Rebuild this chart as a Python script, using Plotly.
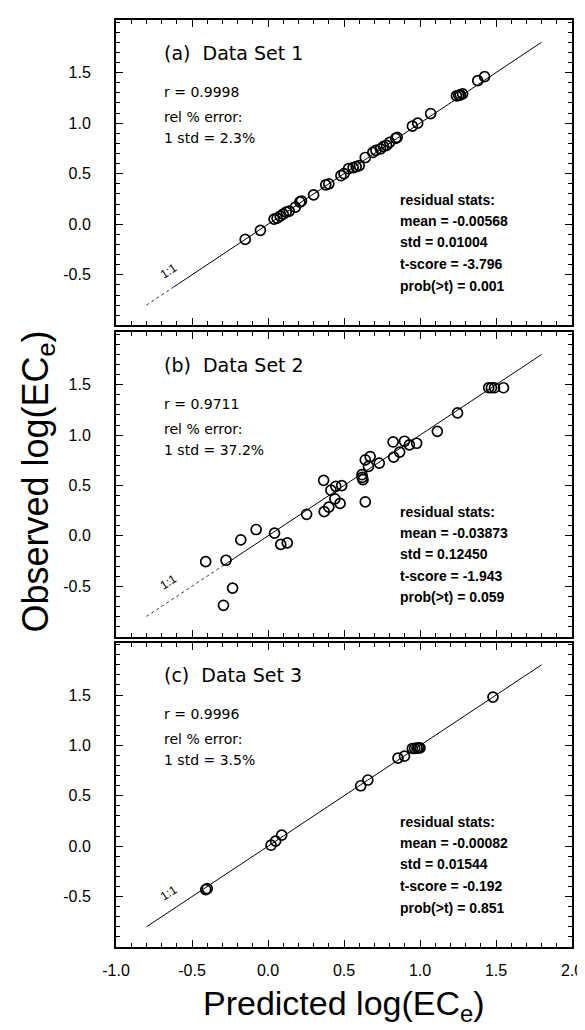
import plotly.graph_objects as go

# ---------------- data ----------------
set1_pred = [-0.15, -0.05, 0.04, 0.06, 0.08, 0.10, 0.12, 0.14, 0.18, 0.21, 0.22, 0.30,
             0.38, 0.40, 0.48, 0.50, 0.53, 0.56, 0.58, 0.60, 0.64, 0.69, 0.71, 0.74,
             0.76, 0.78, 0.80, 0.84, 0.85, 0.95, 0.985, 1.07, 1.24, 1.255, 1.265, 1.28,
             1.38, 1.425]
set1_obs = [-0.15, -0.06, 0.05, 0.06, 0.08, 0.10, 0.12, 0.13, 0.17, 0.22, 0.23, 0.29,
            0.39, 0.40, 0.48, 0.50, 0.55, 0.56, 0.57, 0.58, 0.66, 0.71, 0.73, 0.745,
            0.77, 0.78, 0.81, 0.85, 0.86, 0.97, 1.00, 1.095, 1.27, 1.275, 1.28, 1.29,
            1.42, 1.46]

set2_pred = [-0.41, -0.276, -0.233, -0.293, -0.179, -0.078, 0.043, 0.084, 0.127, 0.254,
             0.366, 0.37, 0.40, 0.414, 0.44, 0.446, 0.485, 0.474, 0.618, 0.625, 0.62,
             0.64, 0.64, 0.672, 0.661, 0.732, 0.823, 0.827, 0.866, 0.898, 0.93, 0.978,
             1.114, 1.247, 1.452, 1.47, 1.49, 1.549]
set2_obs = [-0.256, -0.242, -0.518, -0.689, -0.039, 0.063, 0.027, -0.085, -0.069, 0.214,
            0.551, 0.24, 0.285, 0.453, 0.368, 0.492, 0.499, 0.322, 0.607, 0.558, 0.58,
            0.338, 0.755, 0.787, 0.689, 0.722, 0.932, 0.781, 0.831, 0.939, 0.903, 0.919,
            1.037, 1.22, 1.47, 1.47, 1.47, 1.47]

set3_pred = [-0.41, -0.40, 0.02, 0.05, 0.09, 0.61, 0.657, 0.855, 0.898, 0.95, 0.965,
             0.98, 0.99, 1.0, 1.48]
set3_obs = [-0.43, -0.42, 0.01, 0.05, 0.11, 0.60, 0.657, 0.874, 0.894, 0.97, 0.972,
            0.975, 0.975, 0.976, 1.48]

panel_titles = ["(a)\u00a0 Data Set 1", "(b)\u00a0 Data Set 2", "(c)\u00a0 Data Set 3"]
left_stats = [
    ["r = 0.9998", "rel % error:", "1 std = 2.3%"],
    ["r = 0.9711", "rel % error:", "1 std = 37.2%"],
    ["r = 0.9996", "rel % error:", "1 std = 3.5%"],
]
right_stats = [
    ["residual stats:", "mean = -0.00568", "std = 0.01004", "t-score = -3.796", "prob(>t) = 0.001"],
    ["residual stats:", "mean = -0.03873", "std = 0.12450", "t-score = -1.943", "prob(>t) = 0.059"],
    ["residual stats:", "mean = -0.00082", "std = 0.01544", "t-score = -0.192", "prob(>t) = 0.851"],
]

one_to_one = [-0.8, 1.8]          # extent of the 1:1 line
dotted_until = [-0.62, -0.3, -0.8]  # faint (dotted) lower part of the 1:1 line per panel

x_ticks = [-1.0, -0.5, 0.0, 0.5, 1.0, 1.5, 2.0]
x_tick_labels = ["-1.0", "-0.5", "0.0", "0.5", "1.0", "1.5", "2.0"]
y_ticks = [-0.5, 0.0, 0.5, 1.0, 1.5]
y_tick_labels = ["-0.5", "0.0", "0.5", "1.0", "1.5"]

x_title = "Predicted log(EC<sub>e</sub>)"
y_title = "Observed log(EC<sub>e</sub>)"

# ---------------- figure ----------------
preds = [set1_pred, set2_pred, set3_pred]
obss = [set1_obs, set2_obs, set3_obs]
domains = [[0.6706, 1.0], [0.3348, 0.6631], [0.0, 0.3283]]
XR = [-1.0, 2.0]
YR = [-1.0, 2.02]

fig = go.Figure()
layout = dict(
    width=585, height=1030,
    margin=dict(l=108, r=13, t=10, b=91),
    paper_bgcolor="white", plot_bgcolor="white",
    showlegend=False,
    font=dict(family="Liberation Sans, Arial", color="black"),
)

annotations = []
for i in range(3):
    xa = "x" if i == 0 else f"x{i+1}"
    ya = "y" if i == 0 else f"y{i+1}"
    # 1:1 line: dotted faint part then solid part
    d = dotted_until[i]
    if d > one_to_one[0]:
        fig.add_trace(go.Scatter(x=[one_to_one[0], d], y=[one_to_one[0], d], mode="lines",
                                 line=dict(color="black", width=0.8, dash="dot"),
                                 xaxis=xa, yaxis=ya, hoverinfo="skip"))
    fig.add_trace(go.Scatter(x=[d, one_to_one[1]], y=[d, one_to_one[1]], mode="lines",
                             line=dict(color="black", width=1.0),
                             xaxis=xa, yaxis=ya, hoverinfo="skip"))
    fig.add_trace(go.Scatter(x=preds[i], y=obss[i], mode="markers",
                             marker=dict(symbol="circle-open", size=10, color="black",
                                         line=dict(width=1.7, color="black")),
                             xaxis=xa, yaxis=ya))

    axis_common = dict(showline=True, linewidth=2, linecolor="black", mirror="allticks",
                       ticks="inside", ticklen=7, tickwidth=1.2, tickcolor="black",
                       showgrid=False, zeroline=False,
                       tickfont=dict(size=16, family="Liberation Sans, Arial", color="black"))
    xkey = "xaxis" if i == 0 else f"xaxis{i+1}"
    ykey = "yaxis" if i == 0 else f"yaxis{i+1}"
    xax = dict(axis_common, range=XR, domain=[0, 1], anchor=ya,
               tickmode="array", tickvals=x_ticks,
               showticklabels=(i == 2),
               minor=dict(ticks="inside", ticklen=4, tickwidth=1, dtick=0.1,
                          tick0=0, tickcolor="black"))
    if i == 2:
        xax["ticktext"] = x_tick_labels
        xax["ticklabelstandoff"] = 8
    else:
        xax["matches"] = "x3"
    layout[xkey] = xax
    layout[ykey] = dict(axis_common, range=YR, domain=domains[i], anchor=xa,
                        tickmode="array", tickvals=y_ticks, ticktext=y_tick_labels,
                        ticklabelstandoff=20,
                        minor=dict(ticks="inside", ticklen=4, tickwidth=1, dtick=0.1,
                                   tick0=0, tickcolor="black"))

    # panel title
    annotations.append(dict(x=-0.696, y=1.695, xref=xa, yref=ya, text=panel_titles[i],
                            showarrow=False, xanchor="left", yanchor="middle",
                            font=dict(size=19, family="DejaVu Sans", color="black")))
    for txt, yy in zip(left_stats[i], [1.31, 1.065, 0.855]):
        annotations.append(dict(x=-0.696, y=yy, xref=xa, yref=ya, text=txt,
                                showarrow=False, xanchor="left", yanchor="middle",
                                font=dict(size=14, family="DejaVu Sans", color="black")))
    for txt, yy in zip(right_stats[i], [0.24, 0.03, -0.18, -0.395, -0.61]):
        annotations.append(dict(x=0.855, y=yy, xref=xa, yref=ya, text="<b>" + txt + "</b>",
                                showarrow=False, xanchor="left", yanchor="middle",
                                font=dict(size=14, family="Liberation Sans, Arial", color="black")))
    annotations.append(dict(x=-0.655, y=-0.46, xref=xa, yref=ya, text="1:1",
                            showarrow=False, textangle=-33,
                            font=dict(size=12, family="Liberation Sans, Arial", color="black")))

# axis titles
annotations.append(dict(x=-0.172, y=0.5016, xref="paper", yref="paper", text=y_title,
                        showarrow=False, textangle=-90, xanchor="center", yanchor="middle",
                        font=dict(size=36, family="Liberation Sans, Arial", color="black")))
annotations.append(dict(x=0.5, y=-0.088, xref="paper", yref="paper", text=x_title,
                        showarrow=False, xanchor="center", yanchor="bottom",
                        font=dict(size=34, family="Liberation Sans, Arial", color="black")))

layout["annotations"] = annotations
fig.update_layout(**layout)
fig.write_html("out.html")
